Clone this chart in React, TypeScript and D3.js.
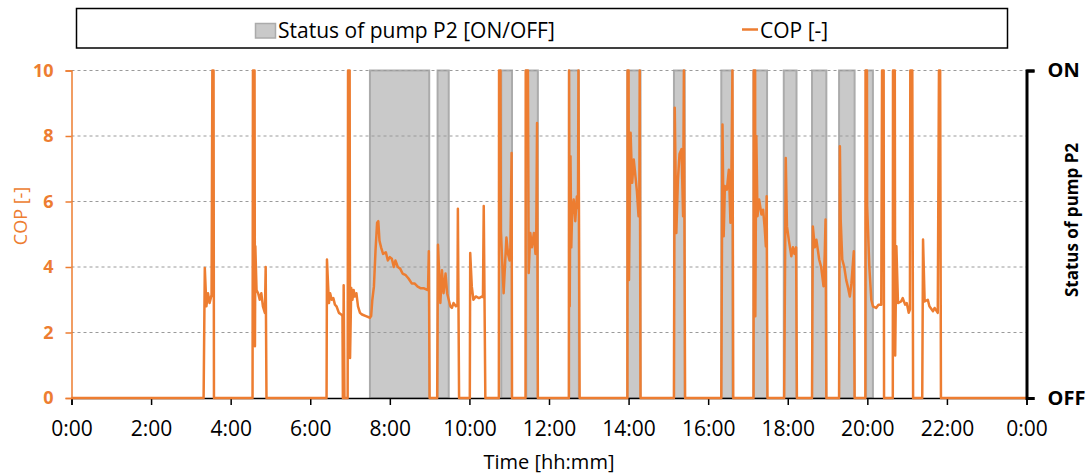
import React, { useEffect, useRef } from 'react';
import * as d3 from 'd3';

// hours of the day, 0..24
const xTicks = d3.range(0, 25, 2);
const copTicks = [0, 2, 4, 6, 8, 10];
const statusTicks = [
  { v: 0, label: 'OFF' },
  { v: 1, label: 'ON' },
];

// pump P2 ON intervals [start h, end h]
const pumpOn: [number, number][] = [
  [7.5, 8.99], [9.2, 9.48], [10.8, 11.07], [11.43, 11.72], [12.5, 12.75],
  [13.97, 14.3], [15.14, 15.41], [16.33, 16.61], [17.14, 17.48], [17.9, 18.22],
  [18.61, 18.97], [19.29, 19.68], [19.97, 20.14],
];

// COP [-] readings [h, value]
const copMorning: [number, number][] = [
  [0, 0], [3.32, 0], [3.35, 3.97], [3.39, 2.8], [3.43, 3.2], [3.47, 2.9], [3.52, 3.15],
  [3.54, 10], [3.57, 10], [3.58, 0],
  [4.55, 0], [4.56, 10], [4.6, 10], [4.61, 1.58], [4.62, 4.63], [4.65, 3.3], [4.69, 3.2],
  [4.73, 3.0], [4.77, 3.2], [4.81, 2.8], [4.86, 2.6], [4.88, 4.0], [4.9, 0],
  [6.41, 0], [6.42, 4.23], [6.45, 3.4], [6.47, 2.9], [6.5, 3.2], [6.54, 3.0], [6.58, 3.05],
  [6.62, 2.85], [6.66, 2.8], [6.72, 2.6], [6.78, 2.55], [6.81, 2.5], [6.82, 0], [6.83, 0],
  [6.84, 3.44], [6.86, 0],
  [6.94, 0], [6.95, 10], [6.99, 10], [7.0, 1.22], [7.03, 3.36], [7.06, 3.0], [7.09, 3.3],
  [7.12, 3.1], [7.16, 3.2], [7.2, 2.8], [7.25, 2.6], [7.3, 2.55], [7.4, 2.5], [7.5, 2.45],
  [7.53, 2.5], [7.56, 3.0], [7.6, 3.4], [7.64, 4.5], [7.68, 5.35], [7.71, 5.4], [7.74, 4.8],
  [7.78, 4.6], [7.83, 4.4], [7.9, 4.45], [7.95, 4.2], [8.0, 4.3], [8.05, 4.25], [8.1, 4.0],
  [8.14, 4.2], [8.2, 4.0], [8.26, 3.95], [8.32, 3.8], [8.4, 3.75], [8.47, 3.65], [8.55, 3.5],
  [8.62, 3.5], [8.7, 3.4], [8.78, 3.35], [8.86, 3.35], [8.94, 3.3], [8.96, 3.3], [8.98, 4.48],
  [9.0, 0],
];

const copMidday: [number, number][] = [
  [9.19, 0], [9.21, 4.68], [9.24, 3.8], [9.27, 2.9], [9.31, 3.9], [9.35, 3.2], [9.4, 3.8],
  [9.44, 3.2], [9.48, 3.0], [9.52, 2.8], [9.56, 2.75], [9.6, 2.9], [9.66, 2.8], [9.7, 2.85],
  [9.71, 5.78], [9.74, 0],
  [10.01, 0], [10.02, 4.43], [10.06, 3.4], [10.1, 3.0], [10.16, 3.1], [10.24, 3.05],
  [10.32, 3.1], [10.34, 3.08], [10.36, 5.86], [10.4, 0],
  [10.74, 0], [10.745, 10], [10.78, 10], [10.79, 5.1], [10.86, 3.2], [10.9, 4.2], [10.93, 4.9],
  [10.97, 4.4], [11.01, 4.2], [11.03, 4.6], [11.06, 7.48], [11.07, 0],
  [11.41, 0], [11.415, 10], [11.47, 10], [11.49, 3.82], [11.53, 5.04], [11.57, 4.6],
  [11.62, 5.04], [11.66, 4.4], [11.68, 5.0], [11.7, 8.4], [11.72, 0],
  [12.5, 0], [12.505, 10], [12.52, 2.8], [12.54, 7.38], [12.56, 4.6], [12.58, 5.6],
  [12.62, 6.06], [12.66, 5.4], [12.7, 6.15], [12.72, 5.8], [12.73, 6.2], [12.74, 10], [12.77, 0],
  [13.97, 0], [13.975, 10], [14.0, 10], [14.01, 3.6], [14.05, 8.1], [14.09, 6.57], [14.13, 7.28],
  [14.17, 6.8], [14.21, 6.3], [14.25, 5.55], [14.27, 6.0], [14.28, 10], [14.3, 0],
];

const copEvening: [number, number][] = [
  [15.14, 0], [15.16, 8.86], [15.2, 5.04], [15.24, 6.67], [15.28, 7.45], [15.33, 7.6],
  [15.37, 5.55], [15.39, 10], [15.42, 0],
  [16.33, 0], [16.36, 8.35], [16.39, 4.94], [16.42, 6.47], [16.47, 6.36], [16.52, 6.97],
  [16.56, 5.35], [16.58, 6.27], [16.61, 10], [16.63, 0],
  [17.14, 0], [17.145, 10], [17.18, 10], [17.185, 2.5], [17.21, 8.0], [17.24, 5.55],
  [17.28, 6.06], [17.34, 5.6], [17.38, 5.75], [17.42, 5.2], [17.45, 4.63], [17.47, 6.16],
  [17.49, 0],
  [17.91, 0], [17.95, 7.33], [17.98, 5.24], [18.03, 4.8], [18.09, 4.33], [18.13, 4.6],
  [18.17, 4.4], [18.21, 4.6], [18.23, 0],
  [18.61, 0], [18.63, 5.24], [18.68, 4.6], [18.72, 4.83], [18.79, 4.23], [18.84, 4.0],
  [18.9, 3.41], [18.93, 4.4], [18.95, 5.45], [18.97, 0],
  [19.29, 0], [19.31, 7.69], [19.33, 5.45], [19.37, 4.23], [19.42, 4.0], [19.47, 3.6],
  [19.51, 3.4], [19.56, 3.1], [19.6, 3.5], [19.66, 4.48], [19.68, 0],
  [19.95, 0], [19.955, 10], [19.99, 10], [19.995, 5.86], [20.05, 4.0], [20.1, 3.0],
  [20.14, 2.8], [20.22, 2.75], [20.28, 2.85], [20.35, 2.85], [20.37, 10], [20.41, 10], [20.42, 0],
  [20.64, 0], [20.645, 10], [20.69, 10], [20.7, 1.3], [20.73, 4.63], [20.77, 2.9], [20.85, 2.95],
  [20.89, 3.05], [20.95, 2.85], [20.99, 2.9], [21.04, 2.6], [21.07, 2.7], [21.08, 10],
  [21.13, 10], [21.15, 0],
  [21.38, 0], [21.4, 4.84], [21.44, 2.95], [21.52, 3.0], [21.56, 2.8], [21.65, 2.65],
  [21.69, 2.75], [21.77, 2.6], [21.8, 10], [21.83, 10], [21.85, 0],
  [24, 0],
];

const W = 1089;
const H = 475;
const ORANGE = '#ED7D31';
const FONT = '"Open Sans", "Noto Sans", sans-serif';

export default function App() {
  const svgRef = useRef<SVGSVGElement>(null);

  useEffect(() => {
    if (!svgRef.current) return;
    const svg = d3.select(svgRef.current);
    svg.selectAll('*').remove();

    const left = 71.5;
    const right = 1026.5;
    const top = 70.5;
    const bottom = 398;

    const x = d3.scaleLinear().domain([0, 24]).range([left, right]);
    const y = d3.scaleLinear().domain([0, 10]).range([bottom, top]);
    const y2 = d3.scaleLinear().domain([0, 1]).range([bottom, top]);

    // pump status bands
    const band = d3
      .area<number>()
      .x((d) => x(d))
      .y0(y2(0))
      .y1(y2(1));
    svg
      .append('g')
      .selectAll('path')
      .data(pumpOn)
      .join('path')
      .attr('d', (d) => band(d))
      .attr('fill', '#c9c9c9')
      .attr('stroke', '#ababab')
      .attr('stroke-width', 2);

    // grid
    svg
      .append('g')
      .selectAll('line')
      .data(copTicks.filter((t) => t > 0))
      .join('line')
      .attr('x1', left)
      .attr('x2', right)
      .attr('y1', (d) => y(d))
      .attr('y2', (d) => y(d))
      .attr('stroke', '#9a9a9a')
      .attr('stroke-width', 1)
      .attr('stroke-dasharray', '3,3');

    // x axis
    const xAxis = svg
      .append('g')
      .attr('transform', `translate(0,${bottom})`)
      .call(
        d3
          .axisBottom(x)
          .tickValues(xTicks)
          .tickSize(7)
          .tickPadding(16)
          .tickFormat((d) => `${Number(d) % 24}:00`)
      );
    xAxis.select('.domain').attr('stroke', '#000').attr('stroke-width', 1.5);
    xAxis.selectAll('.tick line').attr('stroke', '#000').attr('stroke-width', 1.5);
    xAxis
      .selectAll('.tick text')
      .attr('fill', '#000')
      .attr('font-family', FONT)
      .attr('font-size', 21);

    // COP line
    const cop = [...copMorning, ...copMidday, ...copEvening];
    const line = d3
      .line<[number, number]>()
      .x((d) => x(d[0]))
      .y((d) => y(d[1]));
    svg
      .append('path')
      .datum(cop)
      .attr('d', line)
      .attr('fill', 'none')
      .attr('stroke', ORANGE)
      .attr('stroke-width', 2.5)
      .attr('stroke-linejoin', 'round');

    // left axis
    const yAxis = svg
      .append('g')
      .attr('transform', `translate(${left},0)`)
      .call(d3.axisLeft(y).tickValues(copTicks).tickSize(6).tickPadding(12));
    yAxis.select('.domain').attr('stroke', ORANGE).attr('stroke-width', 1.5);
    yAxis.selectAll('.tick line').attr('stroke', ORANGE).attr('stroke-width', 1.5);
    yAxis
      .selectAll('.tick text')
      .attr('fill', ORANGE)
      .attr('font-family', FONT)
      .attr('font-weight', 'bold')
      .attr('font-size', 18);

    // right axis
    const y2Axis = svg
      .append('g')
      .attr('transform', `translate(${right},0)`)
      .call(
        d3
          .axisRight(y2)
          .tickValues(statusTicks.map((s) => s.v))
          .tickSize(8)
          .tickPadding(13)
          .tickFormat((d) => statusTicks.find((s) => s.v === d)?.label ?? '')
      );
    y2Axis.select('.domain').attr('stroke', '#000').attr('stroke-width', 3);
    y2Axis.selectAll('.tick line').attr('stroke', '#000').attr('stroke-width', 3);
    y2Axis
      .selectAll('.tick text')
      .attr('fill', '#000')
      .attr('font-family', FONT)
      .attr('font-weight', 'bold')
      .attr('font-size', 20);

    // axis titles
    svg
      .append('text')
      .attr('x', (left + right) / 2)
      .attr('y', 469)
      .attr('text-anchor', 'middle')
      .attr('font-family', FONT)
      .attr('font-size', 20)
      .attr('fill', '#000')
      .text('Time [hh:mm]');
    svg
      .append('text')
      .attr('transform', `translate(21,216) rotate(-90)`)
      .attr('dy', '0.35em')
      .attr('text-anchor', 'middle')
      .attr('font-family', FONT)
      .attr('font-size', 18)
      .attr('fill', ORANGE)
      .text('COP [-]');
    svg
      .append('text')
      .attr('transform', `translate(1072,220) rotate(-90)`)
      .attr('dy', '0.35em')
      .attr('text-anchor', 'middle')
      .attr('font-family', FONT)
      .attr('font-weight', 'bold')
      .attr('font-size', 17)
      .attr('fill', '#000')
      .text('Status of pump P2');

    // legend
    const lg = svg.append('g');
    lg.append('rect')
      .attr('x', 76.5)
      .attr('y', 8.5)
      .attr('width', 931)
      .attr('height', 39.5)
      .attr('fill', '#fff')
      .attr('stroke', '#000')
      .attr('stroke-width', 1.5);
    lg.append('rect')
      .attr('x', 255.5)
      .attr('y', 23.5)
      .attr('width', 20)
      .attr('height', 14.5)
      .attr('fill', '#c9c9c9')
      .attr('stroke', '#ababab')
      .attr('stroke-width', 1.5);
    lg.append('text')
      .attr('x', 278)
      .attr('y', 38)
      .attr('font-family', FONT)
      .attr('font-size', 21)
      .attr('fill', '#000')
      .text('Status of pump P2 [ON/OFF]');
    lg.append('line')
      .attr('x1', 742)
      .attr('x2', 758)
      .attr('y1', 29.5)
      .attr('y2', 29.5)
      .attr('stroke', ORANGE)
      .attr('stroke-width', 2.5);
    lg.append('text')
      .attr('x', 760)
      .attr('y', 38)
      .attr('font-family', FONT)
      .attr('font-size', 21)
      .attr('fill', '#000')
      .text('COP [-]');
  }, []);

  return (
    <div style={{ position: 'absolute', left: 0, top: 0, width: W, height: H, background: '#fff' }}>
      <svg ref={svgRef} width={W} height={H} />
    </div>
  );
}
